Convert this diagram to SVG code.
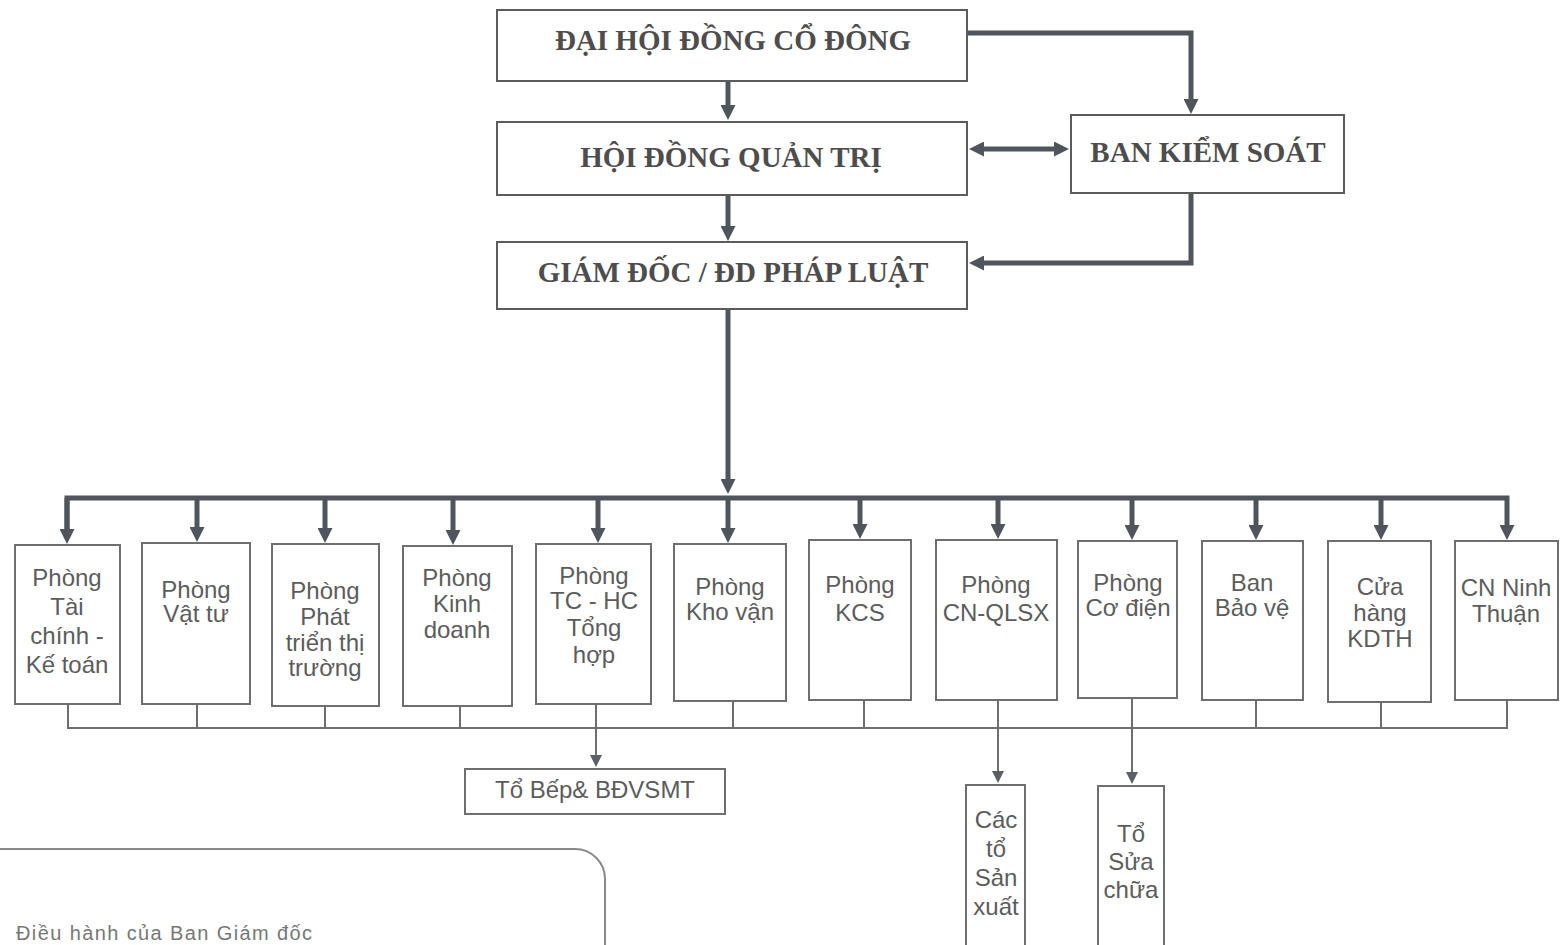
<svg xmlns="http://www.w3.org/2000/svg" width="1561" height="945" viewBox="0 0 1561 945">
<style>
.bg{fill:#ffffff}
.top rect{fill:#ffffff;stroke:#5c5c5c;stroke-width:2}
.top text{font-family:"Liberation Serif","Times New Roman",serif;font-weight:bold;font-size:29px;fill:#4d4d4d;text-anchor:middle}
.dept rect{fill:#ffffff;stroke:#6e6e6e;stroke-width:2}
.dept text{font-family:"Liberation Sans",Arial,sans-serif;font-size:24px;fill:#5c5c5c;text-anchor:middle}
.thick{fill:none;stroke:#50545c;stroke-width:5}
.thin{fill:none;stroke:#6e6e6e;stroke-width:2}
.legend{fill:none;stroke:#8a8a8a;stroke-width:2}
.legtext{font-family:"Liberation Sans",Arial,sans-serif;font-size:20px;fill:#777777}
</style>
<defs>
<marker id="ah" markerUnits="userSpaceOnUse" markerWidth="15" markerHeight="15" viewBox="0 -7.5 15 15" refX="1" refY="0" orient="auto-start-reverse">
<path d="M0,-7.5 L15,0 L0,7.5 z" fill="#50545c"/>
</marker>
<marker id="ahs" markerUnits="userSpaceOnUse" markerWidth="12" markerHeight="12" viewBox="0 -6 12 12" refX="1" refY="0" orient="auto">
<path d="M0,-6 L12,0 L0,6 z" fill="#5c5f66"/>
</marker>
</defs>
<rect class="bg" x="0" y="0" width="1561" height="945"/>

<g id="connectors">
<line class="thick" x1="728" y1="82" x2="728" y2="106" marker-end="url(#ah)"/>
<line class="thick" x1="728" y1="196" x2="728" y2="227" marker-end="url(#ah)"/>
<path class="thick" d="M968,33 H1191 V100" marker-end="url(#ah)"/>
<line class="thick" x1="983" y1="149" x2="1055" y2="149" marker-start="url(#ah)" marker-end="url(#ah)"/>
<path class="thick" d="M1191,194 V263 H983" marker-end="url(#ah)"/>
<line class="thick" x1="728" y1="310" x2="728" y2="480" marker-end="url(#ah)"/>
<path class="thick" d="M67,530 V498 H1507 V526" marker-end="url(#ah)"/>
<path class="thick" d="M67,498 V530" marker-end="url(#ah)"/>
<line class="thick" x1="197" y1="498" x2="197" y2="528" marker-end="url(#ah)"/>
<line class="thick" x1="325" y1="498" x2="325" y2="529" marker-end="url(#ah)"/>
<line class="thick" x1="453" y1="498" x2="453" y2="531" marker-end="url(#ah)"/>
<line class="thick" x1="598" y1="498" x2="598" y2="529" marker-end="url(#ah)"/>
<line class="thick" x1="728" y1="496" x2="728" y2="529" marker-end="url(#ah)"/>
<line class="thick" x1="860" y1="498" x2="860" y2="525" marker-end="url(#ah)"/>
<line class="thick" x1="998" y1="498" x2="998" y2="525" marker-end="url(#ah)"/>
<line class="thick" x1="1132" y1="498" x2="1132" y2="526" marker-end="url(#ah)"/>
<line class="thick" x1="1256" y1="498" x2="1256" y2="526" marker-end="url(#ah)"/>
<line class="thick" x1="1381" y1="498" x2="1381" y2="526" marker-end="url(#ah)"/>
<path class="thin" d="M68,704 V728 H1507 V700"/>
<line class="thin" x1="197" y1="704" x2="197" y2="728"/>
<line class="thin" x1="325" y1="706" x2="325" y2="728"/>
<line class="thin" x1="460" y1="706" x2="460" y2="728"/>
<line class="thin" x1="733" y1="701" x2="733" y2="728"/>
<line class="thin" x1="864" y1="700" x2="864" y2="728"/>
<line class="thin" x1="1256" y1="700" x2="1256" y2="728"/>
<line class="thin" x1="1381" y1="702" x2="1381" y2="728"/>
<line class="thin" x1="596" y1="704" x2="596" y2="756" marker-end="url(#ahs)"/>
<line class="thin" x1="998" y1="700" x2="998" y2="772" marker-end="url(#ahs)"/>
<line class="thin" x1="1132" y1="698" x2="1132" y2="773" marker-end="url(#ahs)"/>
</g>

<g id="dhdcd" class="top"><rect x="497" y="10" width="470" height="71"/><text x="733" y="50">ĐẠI HỘI ĐỒNG CỔ ĐÔNG</text></g>
<g id="hdqt" class="top"><rect x="497" y="122" width="470" height="73"/><text x="731" y="167">HỘI ĐỒNG QUẢN TRỊ</text></g>
<g id="giamdoc" class="top"><rect x="497" y="242" width="470" height="67"/><text x="733" y="282">GIÁM ĐỐC / ĐD PHÁP LUẬT</text></g>
<g id="bks" class="top"><rect x="1071" y="115" width="273" height="78"/><text x="1208" y="162">BAN KIỂM SOÁT</text></g>

<g id="d1" class="dept"><rect x="15" y="545" width="105" height="159"/><text x="67"><tspan x="67" y="586">Phòng</tspan><tspan x="67" y="615">Tài</tspan><tspan x="67" y="644">chính -</tspan><tspan x="67" y="673">Kế toán</tspan></text></g>
<g id="d2" class="dept"><rect x="142" y="543" width="108" height="161"/><text><tspan x="196" y="598">Phòng</tspan><tspan x="196" y="622">Vật tư</tspan></text></g>
<g id="d3" class="dept"><rect x="272" y="544" width="107" height="162"/><text><tspan x="325" y="599">Phòng</tspan><tspan x="325" y="625">Phát</tspan><tspan x="325" y="651">triển thị</tspan><tspan x="325" y="676">trường</tspan></text></g>
<g id="d4" class="dept"><rect x="403" y="546" width="109" height="160"/><text><tspan x="457" y="586">Phòng</tspan><tspan x="457" y="612">Kinh</tspan><tspan x="457" y="638">doanh</tspan></text></g>
<g id="d5" class="dept"><rect x="536" y="544" width="115" height="160"/><text><tspan x="594" y="584">Phòng</tspan><tspan x="594" y="609">TC - HC</tspan><tspan x="594" y="636">Tổng</tspan><tspan x="594" y="663">hợp</tspan></text></g>
<g id="d6" class="dept"><rect x="674" y="544" width="112" height="157"/><text><tspan x="730" y="595">Phòng</tspan><tspan x="730" y="620">Kho vận</tspan></text></g>
<g id="d7" class="dept"><rect x="809" y="540" width="102" height="160"/><text><tspan x="860" y="593">Phòng</tspan><tspan x="860" y="621">KCS</tspan></text></g>
<g id="d8" class="dept"><rect x="936" y="540" width="121" height="160"/><text><tspan x="996" y="593">Phòng</tspan><tspan x="996" y="621">CN-QLSX</tspan></text></g>
<g id="d9" class="dept"><rect x="1078" y="541" width="99" height="157"/><text><tspan x="1128" y="591">Phòng</tspan><tspan x="1128" y="616">Cơ điện</tspan></text></g>
<g id="d10" class="dept"><rect x="1202" y="541" width="101" height="159"/><text><tspan x="1252" y="591">Ban</tspan><tspan x="1252" y="616">Bảo vệ</tspan></text></g>
<g id="d11" class="dept"><rect x="1328" y="541" width="103" height="161"/><text><tspan x="1380" y="595">Cửa</tspan><tspan x="1380" y="621">hàng</tspan><tspan x="1380" y="647">KDTH</tspan></text></g>
<g id="d12" class="dept"><rect x="1455" y="541" width="103" height="159"/><text><tspan x="1506" y="596">CN Ninh</tspan><tspan x="1506" y="622">Thuận</tspan></text></g>

<g id="tobep" class="dept"><rect x="465" y="769" width="260" height="45"/><text x="595" y="798">Tổ Bếp&amp; BĐVSMT</text></g>
<g id="tosx" class="dept"><rect x="966" y="785" width="59" height="175"/><text><tspan x="996" y="828">Các</tspan><tspan x="996" y="857">tổ</tspan><tspan x="996" y="886">Sản</tspan><tspan x="996" y="915">xuất</tspan></text></g>
<g id="tosc" class="dept"><rect x="1098" y="786" width="66" height="175"/><text><tspan x="1131" y="842">Tổ</tspan><tspan x="1131" y="870">Sửa</tspan><tspan x="1131" y="898">chữa</tspan></text></g>

<g id="legend">
<path class="legend" d="M-2,849 H575 A30,30 0 0 1 605,879 V947"/>
<text class="legtext" x="16" y="940" textLength="296" lengthAdjust="spacing">Điều hành của Ban Giám đốc</text>
</g>
</svg>
